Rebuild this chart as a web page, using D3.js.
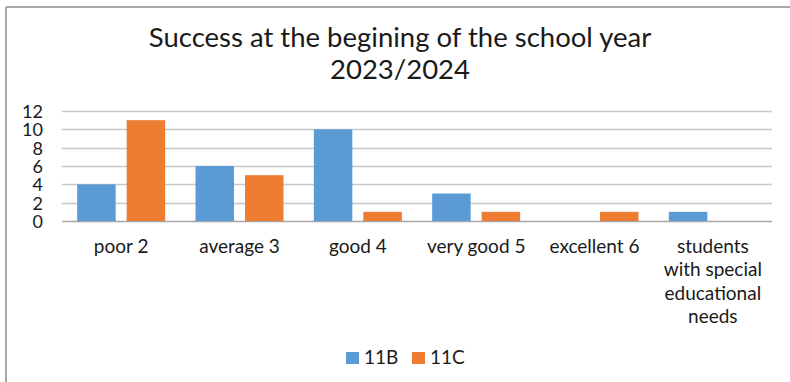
<!DOCTYPE html>
<html>
<head>
<meta charset="utf-8">
<script src="https://cdn.jsdelivr.net/npm/d3@7"></script>
<style>
  html, body { margin: 0; padding: 0; background: #fff; }
  svg { display: block; }
  text { font-family: Lato, "Open Sans", sans-serif; fill: #1a1a1a; }
</style>
</head>
<body>
<svg id="chart" width="790" height="382"></svg>
<script>
// Grade categories (each label line drawn separately)
const categories = [
  ["poor 2"],
  ["average 3"],
  ["good 4"],
  ["very good 5"],
  ["excellent 6"],
  ["students", "with special", "educational", "needs"]
];
const seriesNames = ["11B", "11C"];
const values11B = [4, 6, 10, 3, 0, 1];
const values11C = [11, 5, 1, 1, 1, 0];
const yTicks = [0, 2, 4, 6, 8, 10, 12];
const colors = ["#5B9BD5", "#ED7D31"];
const titleLines = ["Success at the begining of the school year", "2023/2024"];

const svg = d3.select("#chart");
const W = 790, H = 382;
const plot = { left: 62, right: 772, top: 111, bottom: 221 };

// Frame lines (top and left edges)
svg.append("line").attr("x1", 6).attr("x2", W).attr("y1", 7).attr("y2", 7)
  .attr("stroke", "#8c8c8c").attr("stroke-width", 1.5);
svg.append("line").attr("x1", 6).attr("x2", 6).attr("y1", 7).attr("y2", H)
  .attr("stroke", "#8c8c8c").attr("stroke-width", 1.5);

// Title
svg.append("g").selectAll("text").data(titleLines).join("text")
  .attr("x", 400).attr("y", (d, i) => i === 0 ? 47 : 79)
  .attr("text-anchor", "middle")
  .attr("font-size", 27.5)
  .text(d => d);

const keys = categories.map((c, i) => i);
const x = d3.scaleBand().domain(keys).range([plot.left, plot.right]).paddingInner(0).paddingOuter(0);
const y = d3.scaleLinear().domain([0, 12]).range([plot.bottom, plot.top]);

// Horizontal grid
svg.append("g").selectAll("line").data(yTicks).join("line")
  .attr("x1", plot.left).attr("x2", plot.right)
  .attr("y1", d => Math.round(y(d)) + 0.5).attr("y2", d => Math.round(y(d)) + 0.5)
  .attr("stroke", d => d === 0 ? "#a6a6a6" : "#c8c8c8").attr("stroke-width", 1.5);

// Y axis labels
const yAxis = d3.axisLeft(y).tickValues(yTicks).tickSize(0).tickPadding(0);
const gy = svg.append("g").attr("transform", `translate(43,0)`).call(yAxis);
gy.select(".domain").remove();
gy.selectAll("text").attr("font-size", 18).attr("font-family", "Lato, sans-serif").attr("fill", "#1a1a1a").attr("dy", "0.36em");

// Bars
const barW = 38.5, barGap = 11;
const groupW = barW * 2 + barGap;
const series = [values11B, values11C];
series.forEach((vals, s) => {
  svg.append("g").selectAll("rect").data(vals).join("rect")
    .attr("x", (d, i) => x(i) + (x.bandwidth() - groupW) / 2 + s * (barW + barGap))
    .attr("width", barW)
    .attr("y", d => y(d))
    .attr("height", d => y(0) - y(d))
    .attr("fill", colors[s]);
});

// Category labels
const gx = svg.append("g");
categories.forEach((lines, i) => {
  gx.append("text")
    .attr("x", x(i) + x.bandwidth() / 2)
    .attr("y", 253)
    .attr("text-anchor", "middle")
    .attr("font-size", 19)
    .selectAll("tspan").data(lines).join("tspan")
    .attr("x", x(i) + x.bandwidth() / 2)
    .attr("dy", (d, j) => j === 0 ? 0 : 23.3)
    .text(d => d);
});

// Legend
const legend = svg.append("g");
const legendX = [346, 412];
seriesNames.forEach((name, i) => {
  legend.append("rect").attr("x", legendX[i]).attr("y", 352).attr("width", 13).attr("height", 12).attr("fill", colors[i]);
  legend.append("text").attr("x", legendX[i] + 18).attr("y", 364).attr("font-size", 19).text(name);
});
</script>
</body>
</html>
